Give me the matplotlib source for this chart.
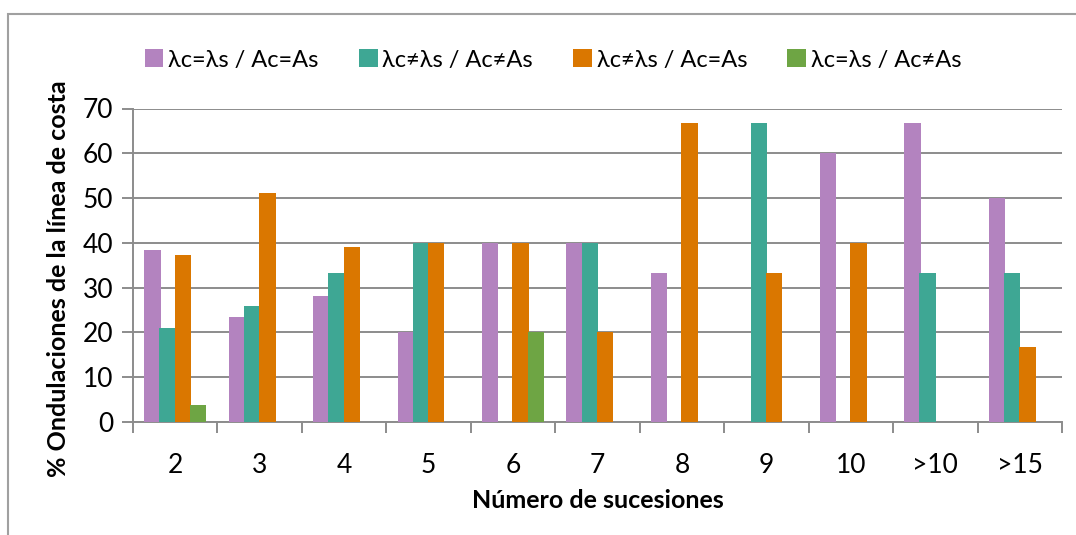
import matplotlib
matplotlib.use('Agg')
import matplotlib.pyplot as plt
import numpy as np

plt.rcParams['font.family'] = ['Lato', 'DejaVu Sans']

# datos
categorias = ['2', '3', '4', '5', '6', '7', '8', '9', '10', '>10', '>15']
series = ['λc=λs / Ac=As', 'λc≠λs / Ac≠As', 'λc≠λs / Ac=As', 'λc=λs / Ac≠As']
igual_igual = [38.5, 23.5, 28.2, 20, 40, 40, 33.3, 0, 60, 66.7, 50]
dist_dist = [21.1, 25.8, 33.3, 40, 0, 40, 0, 66.7, 0, 33.3, 33.3]
dist_igual = [37.2, 51.2, 39.0, 40, 40, 20, 66.7, 33.3, 40, 0, 16.7]
igual_dist = [3.7, 0, 0, 0, 20, 0, 0, 0, 0, 0, 0]
colores = ['#B383BF', '#3EA794', '#DA7700', '#6EA544']

valores = [igual_igual, dist_dist, dist_igual, igual_dist]

fig = plt.figure(figsize=(10.76, 5.35), dpi=100)
ax = fig.add_axes([133 / 1076, 1 - 422 / 535, 929 / 1076, 313.5 / 535])

x = np.arange(len(categorias))
paso = 0.18
ancho = 0.195
for i, (vals, nombre, col) in enumerate(zip(valores, series, colores)):
    ax.bar(x + (i - 1.5) * paso, vals, ancho, color=col, label=nombre, zorder=3)

ax.set_xlim(-0.5, len(categorias) - 0.5)
ax.set_ylim(0, 70)
ax.set_yticks(range(0, 71, 10))
ax.set_xticks(x)
ax.set_xticklabels(categorias)
ax.set_xticks(np.arange(-0.5, len(categorias), 1), minor=True)

gris = '#8C8C8C'
ax.grid(True, axis='y', color=gris, linewidth=1.4, zorder=0)
for lado in ['top', 'right']:
    ax.spines[lado].set_visible(False)
ax.spines['left'].set_color(gris)
ax.spines['left'].set_linewidth(1.4)
ax.spines['bottom'].set_color(gris)
ax.spines['bottom'].set_linewidth(1.4)
ax.tick_params(axis='x', which='major', length=0, labelsize=19, pad=22)
ax.tick_params(axis='x', which='minor', length=8, width=1.4, color=gris)
ax.tick_params(axis='y', length=8, width=1.4, color=gris, labelsize=19, pad=6)

ax.set_xlabel('Número de sucesiones', fontsize=18, fontweight='bold', labelpad=8)
ax.set_ylabel('% Ondulaciones de la línea de costa', fontsize=18, fontweight='bold')
ax.yaxis.set_label_coords(-0.068, 0.456)

fig.legend(loc='center', bbox_to_anchor=(553 / 1076, 1 - 60 / 535), ncol=4, frameon=False,
           fontsize=17, handlelength=0.8, handleheight=0.8, handletextpad=0.2,
           columnspacing=1.7)

# borde del gráfico
borde = plt.Rectangle((8 / 1076, -0.1), 1.2, 1 - 14 / 535 + 0.1, transform=fig.transFigure,
                      fill=False, edgecolor='#A0A0A0', linewidth=1.5)
fig.patches.append(borde)

fig.savefig('out.png', dpi=100)
